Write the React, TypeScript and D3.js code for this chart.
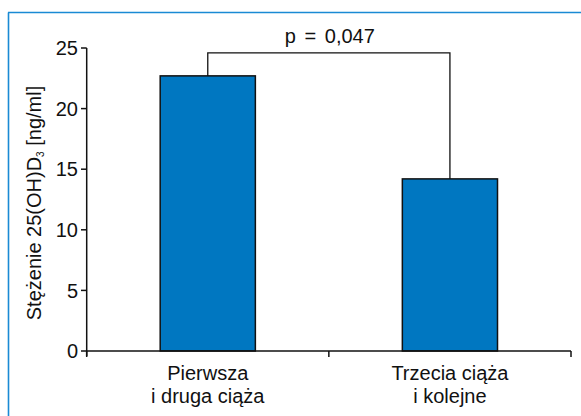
import React from 'react';
import * as d3 from 'd3';

const categories = ['Pierwsza\ni druga ciąża', 'Trzecia ciąża\ni kolejne'];
const values = [22.7, 14.2];
const yTicks = [0, 5, 10, 15, 20, 25];
const pLabel = 'p = 0,047';
const bracketTop = 24.6;

const WIDTH = 581;
const HEIGHT = 416;
const FONT = '"Liberation Sans", Arial, sans-serif';
const FS = 20;
const BAR_FILL = '#0077c1';
const FRAME = '#1a8ad4';

const App = () => {
  const x = d3.scaleBand<string>().domain(categories).range([86.7, 571]).padding(0);
  const y = d3.scaleLinear().domain([0, 25]).range([351, 48]);
  const barW = x.bandwidth() * 0.393;
  const cx = (c: string) => (x(c) as number) + x.bandwidth() / 2;
  const y0 = y(0);

  return (
    <svg
      width={WIDTH}
      height={HEIGHT}
      viewBox={`0 0 ${WIDTH} ${HEIGHT}`}
      style={{ position: 'absolute', left: 0, top: 0, background: '#fff' }}
      fontFamily={FONT}
    >
      {/* ramka */}
      <line x1={8.5} x2={8.5} y1={12.5} y2={HEIGHT} stroke={FRAME} strokeWidth={1.6} />
      <line x1={8} x2={WIDTH} y1={12.5} y2={12.5} stroke={FRAME} strokeWidth={1.6} />

      {/* słupki */}
      {categories.map((c, i) => (
        <rect
          key={c}
          x={cx(c) - barW / 2}
          y={y(values[i])}
          width={barW}
          height={y0 - y(values[i])}
          fill={BAR_FILL}
          stroke="#111"
          strokeWidth={1.5}
        />
      ))}

      {/* oś Y */}
      <line x1={86.7} x2={86.7} y1={y(25)} y2={y0 + 5} stroke="#111" strokeWidth={1.5} />
      {yTicks.map((t) => (
        <g key={t}>
          <line x1={81} x2={86.7} y1={y(t)} y2={y(t)} stroke="#111" strokeWidth={1.5} />
          <text x={78} y={y(t)} dy="0.36em" textAnchor="end" fontSize={FS} fill="#111">
            {t}
          </text>
        </g>
      ))}

      {/* oś X */}
      <line x1={86.7} x2={571} y1={y0} y2={y0} stroke="#111" strokeWidth={1.5} />
      {[...categories.map((c) => x(c) as number), 571].map((p, i) => (
        <line key={i} x1={p} x2={p} y1={y0} y2={y0 + 6} stroke="#111" strokeWidth={1.5} />
      ))}
      {categories.map((c) =>
        c.split('\n').map((line, j) => (
          <text
            key={c + j}
            x={cx(c)}
            y={380 + j * 23}
            textAnchor="middle"
            fontSize={FS}
            fill="#111"
          >
            {line}
          </text>
        ))
      )}

      {/* tytuł osi Y */}
      <text
        transform={`translate(41, 203) rotate(-90)`}
        textAnchor="middle"
        fontSize={FS}
        fill="#111"
      >
        Stężenie 25(OH)D
        <tspan fontSize={10} dy={3}>3</tspan>
        <tspan dy={-3}> [ng/ml]</tspan>
      </text>

      {/* p-value */}
      <path
        d={`M${cx(categories[0])},${y(values[0])}V${y(bracketTop)}H${cx(categories[1])}V${y(values[1])}`}
        fill="none"
        stroke="#111"
        strokeWidth={1.3}
      />
      <text
        x={(cx(categories[0]) + cx(categories[1])) / 2 + 1}
        y={43}
        textAnchor="middle"
        fontSize={FS}
        wordSpacing={3}
        fill="#111"
      >
        {pLabel}
      </text>
    </svg>
  );
};

export default App;
